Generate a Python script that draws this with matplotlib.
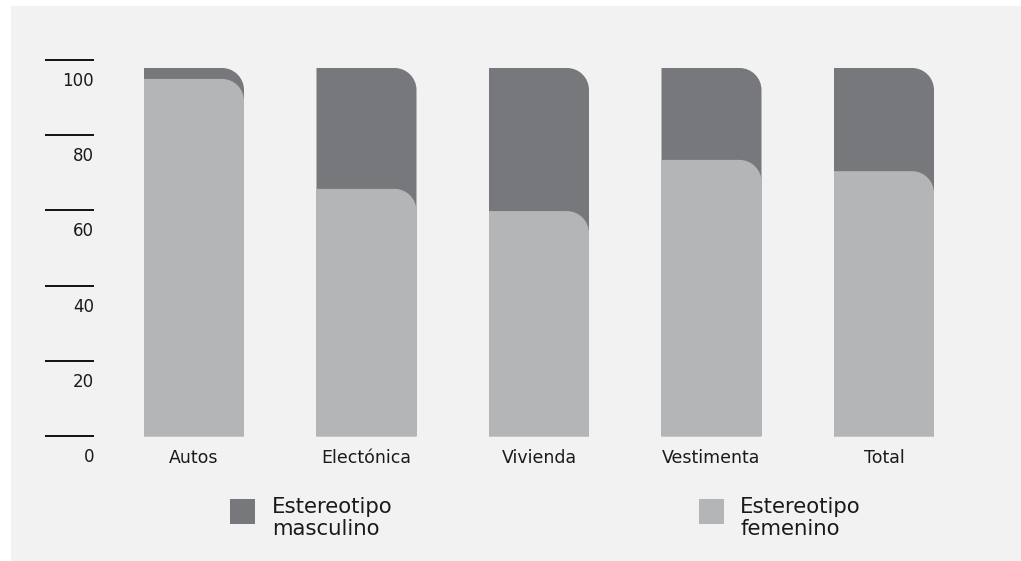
import matplotlib
matplotlib.use("Agg")
import matplotlib.pyplot as plt
from matplotlib.path import Path
from matplotlib.patches import PathPatch, Rectangle
from matplotlib.transforms import ScaledTranslation

plt.rcParams["font.family"] = ["DejaVu Sans"]

# ---- data ----
categories = ["Autos", "Electónica", "Vivienda", "Vestimenta", "Total"]
femenino = [94.9, 65.7, 59.8, 73.4, 70.4]
masculino = [2.9, 32.1, 38.0, 24.4, 27.4]
y_ticks = [0, 20, 40, 60, 80, 100]
legend_labels = ["Estereotipo\nmasculino", "Estereotipo\nfemenino"]

# ---- style ----
W, H = 1021, 561
BG = "#f2f2f2"
DARK = "#77787c"
LIGHT = "#b4b5b7"
TXT = "#1a1a1a"

fig = plt.figure(figsize=(W / 100, H / 100), dpi=100)
fig.patch.set_facecolor("white")
fig.add_artist(Rectangle((11 / W, 0), 1 - 11 / W, 1 - 6 / H,
                         transform=fig.transFigure, facecolor=BG,
                         edgecolor="none", zorder=0))

ax = fig.add_axes([0, 0, 1, 1])
ax.set_facecolor("none")
ax.axis("off")

PX_X = 172.5   # pixels per category step
PX_Y = 3.766   # pixels per y unit
x0_px = 194.0
y0_px = 436.3
ax.set_xlim(-x0_px / PX_X, (W - x0_px) / PX_X)
ax.set_ylim(-(H - y0_px) / PX_Y, y0_px / PX_Y)

bar_w = 100 / PX_X
r_px = 22
rx, ry = r_px / PX_X, r_px / PX_Y
K = 0.5523


def rounded_bar(x, h, color, z):
    xl, xr = x - bar_w / 2, x + bar_w / 2
    verts = [(xl, 0), (xr, 0), (xr, h - ry),
             (xr, h - ry + K * ry), (xr - rx + K * rx, h), (xr - rx, h),
             (xl, h), (xl, 0)]
    codes = [Path.MOVETO, Path.LINETO, Path.LINETO,
             Path.CURVE4, Path.CURVE4, Path.CURVE4,
             Path.LINETO, Path.CLOSEPOLY]
    ax.add_patch(PathPatch(Path(verts, codes), facecolor=color,
                           edgecolor="none", zorder=z))


cat_off = ax.transData + ScaledTranslation(0, -22 / 100, fig.dpi_scale_trans)
for i, (f, m) in enumerate(zip(femenino, masculino)):
    rounded_bar(i, f + m, DARK, 2)
    rounded_bar(i, f, LIGHT, 3)
    ax.text(i, 0, categories[i], ha="center", va="center", fontsize=12.5,
            color=TXT, transform=cat_off)

# y ticks as short lines with labels below
tx0 = (45 - x0_px) / PX_X
tx1 = (94 - x0_px) / PX_X
lab_off = ax.transData + ScaledTranslation(0, -21 / 100, fig.dpi_scale_trans)
for t in y_ticks:
    ax.plot([tx0, tx1], [t, t], color="black", lw=1.3, zorder=2,
            solid_capstyle="butt")
    ax.text(tx1, t, str(t), ha="right", va="center", fontsize=12, color=TXT,
            transform=lab_off)

# legend
for (sx, tx), col, lab in zip([(230, 272), (699, 740)], [DARK, LIGHT], legend_labels):
    fig.add_artist(Rectangle((sx / W, 1 - 524 / H), 25 / W, 25 / H,
                             transform=fig.transFigure, facecolor=col,
                             edgecolor="none", zorder=3))
    fig.text(tx / W, 1 - 497 / H, lab, ha="left", va="top", fontsize=15.3,
             color=TXT, linespacing=1.15)

fig.savefig("out.png", dpi=100, facecolor=fig.get_facecolor())
